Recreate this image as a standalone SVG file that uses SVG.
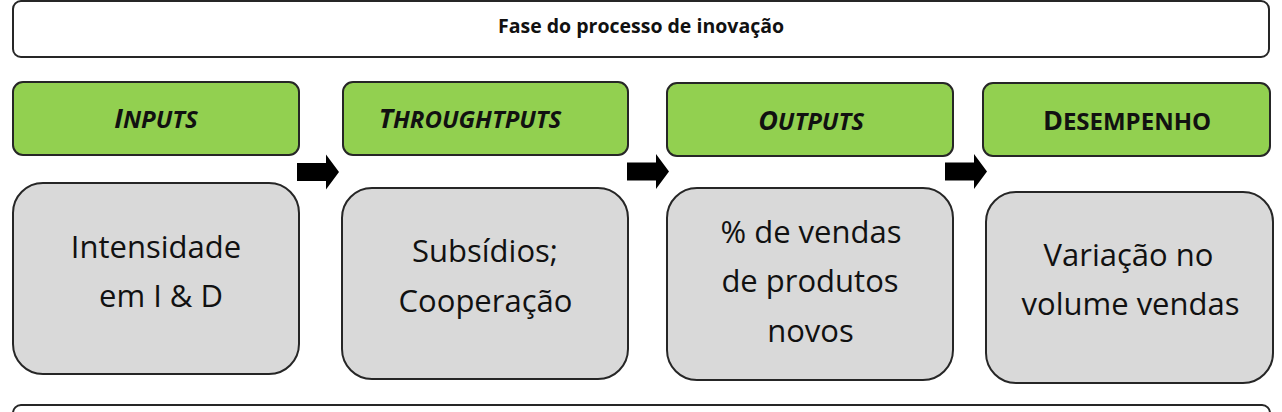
<svg xmlns="http://www.w3.org/2000/svg" width="1282" height="412" viewBox="0 0 1282 412">
<style>
.frame{fill:#ffffff;stroke:#262626;stroke-width:2}
.head{fill:#92D050;stroke:#262626;stroke-width:2}
.body{fill:#D9D9D9;stroke:#262626;stroke-width:2}
.arrow{fill:#000000}
.title{font-family:"Open Sans","Liberation Sans",sans-serif;font-weight:bold;font-size:19.5px;fill:#111;text-anchor:middle}
.ht{font-family:"Open Sans","Liberation Sans",sans-serif;font-weight:bold;font-size:24px;fill:#111;text-anchor:middle}
.it{font-style:italic}
.big{font-size:27px}
.bt{font-family:"Open Sans","Liberation Sans",sans-serif;font-size:31px;fill:#111;text-anchor:middle}
</style>
<defs>
<path id="arr" d="M0,-9 H29 V-17.5 L42,0 L29,17.5 V9 H0 Z"/>
</defs>
<g id="phase">
<rect class="frame" x="13" y="1" width="1256" height="56" rx="8"/>
<text class="title" x="641" y="33">Fase do processo de inovação</text>
</g>
<g id="inputs-head">
<rect class="head" x="13" y="82" width="286" height="73" rx="10"/>
<text class="ht it" x="156" y="128"><tspan class="big">I</tspan>NPUTS</text>
</g>
<g id="throughputs-head">
<rect class="head" x="343" y="82" width="285" height="73" rx="10"/>
<text class="ht it" x="470" y="128"><tspan class="big">T</tspan>HROUGHTPUTS</text>
</g>
<g id="outputs-head">
<rect class="head" x="667" y="83" width="286" height="73" rx="10"/>
<text class="ht it" x="811" y="130"><tspan class="big">O</tspan>UTPUTS</text>
</g>
<g id="desempenho-head">
<rect class="head" x="983" y="83" width="287" height="73" rx="10"/>
<text class="ht" x="1127" y="130"><tspan class="big">D</tspan>ESEMPENHO</text>
</g>
<g id="inputs-body">
<rect class="body" x="13" y="183" width="286" height="191" rx="30"/>
<text class="bt" x="156" y="258">Intensidade</text>
<text class="bt" x="161" y="307">em I &amp; D</text>
</g>
<g id="throughputs-body">
<rect class="body" x="342" y="188" width="286" height="191" rx="30"/>
<text class="bt" x="485" y="262">Subsídios;</text>
<text class="bt" x="485.5" y="312">Cooperação</text>
</g>
<g id="outputs-body">
<rect class="body" x="667" y="188" width="286" height="192" rx="30"/>
<text class="bt" x="811" y="243">% de vendas</text>
<text class="bt" x="810" y="292">de produtos</text>
<text class="bt" x="810.5" y="342">novos</text>
</g>
<g id="desempenho-body">
<rect class="body" x="986" y="192" width="287" height="191" rx="30"/>
<text class="bt" x="1128.5" y="266">Variação no</text>
<text class="bt" x="1130.5" y="315">volume vendas</text>
</g>
<g id="bottom-frame">
<rect class="frame" x="13" y="405" width="1257" height="30" rx="8"/>
</g>
<g id="connectors">
<use href="#arr" class="arrow" transform="translate(297,172)"/>
<use href="#arr" class="arrow" transform="translate(627,171.5)"/>
<use href="#arr" class="arrow" transform="translate(945,171.5)"/>
</g>
</svg>
